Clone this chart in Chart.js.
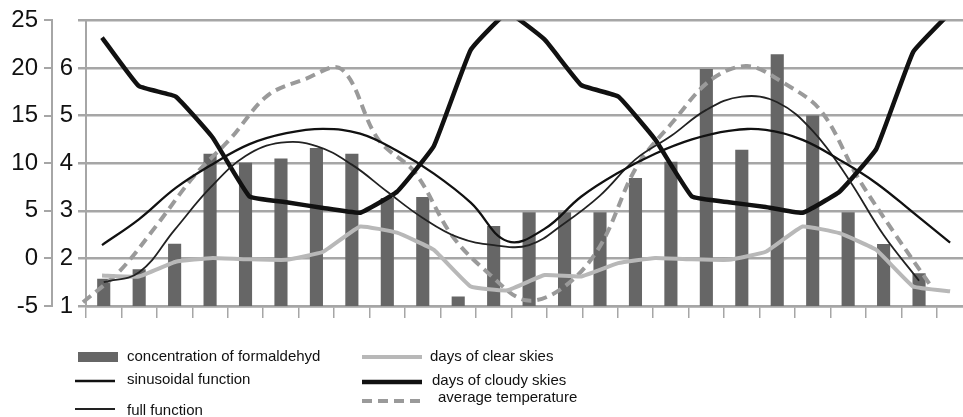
<!DOCTYPE html>
<html>
<head>
<meta charset="utf-8">
<script src="https://cdn.jsdelivr.net/npm/chart.js@4.4.1/dist/chart.umd.min.js"></script>
<style>
  html, body { margin: 0; padding: 0; background: #fff; }
  canvas { display: block; }
</style>
</head>
<body>
<canvas id="chart" width="963" height="417"></canvas>
<script>
// periods on the bottom axis (the original shows tick marks only)
const periods = [1, 2, 3, 4, 5, 6, 7, 8, 9, 10, 11, 12, 13, 14, 15, 16, 17, 18, 19, 20, 21, 22, 23, 24];

// inner scale (1 - 6)
const formaldehyde = [1.57, 1.77, 2.31, 4.20, 4.01, 4.10, 4.32, 4.20, 3.27, 3.29, 1.20, 2.68, 2.97, 2.97, 2.97, 3.69, 4.03, 5.98, 4.28, 6.29, 5.00, 2.97, 2.30, 1.69];
const sinusoidal = [2.28, 2.82, 3.48, 3.98, 4.40, 4.63, 4.72, 4.62, 4.26, 3.78, 3.17, 2.36, 2.62, 3.30, 3.80, 4.20, 4.50, 4.68, 4.70, 4.49, 4.07, 3.58, 2.96, 2.33];
const fullFunction = [1.50, 1.71, 2.60, 3.48, 4.15, 4.43, 4.36, 3.97, 3.40, 2.85, 2.44, 2.28, 2.28, 2.74, 3.32, 4.08, 4.57, 5.12, 5.40, 5.28, 4.68, 3.68, 2.49, 1.53];
const clearSkies = [1.64, 1.62, 1.93, 2.01, 1.98, 1.97, 2.14, 2.67, 2.54, 2.18, 1.41, 1.33, 1.65, 1.62, 1.90, 2.01, 1.98, 1.97, 2.14, 2.67, 2.53, 2.18, 1.41, 1.31];

// outer scale (-5 - 25)
const cloudySkies = [23.2, 18.1, 17.0, 12.7, 6.5, 5.9, 5.3, 4.8, 7.0, 11.8, 21.9, 25.8, 23.0, 18.2, 17.0, 12.5, 6.5, 5.9, 5.4, 4.8, 7.0, 11.5, 21.7, 25.8];
const avgTemperature = [-4.6, -1.3, 3.5, 8.6, 12.6, 17.1, 18.8, 19.9, 12.5, 9.0, 2.4, -1.6, -4.4, -3.1, 1.2, 9.6, 14.4, 18.7, 20.2, 18.4, 15.5, 8.5, 2.6, -3.0];

// tick labels
const outerTicks = [-5, 0, 5, 10, 15, 20, 25];
const innerTicks = [1, 2, 3, 4, 5, 6];

const GRID = '#a6a6a6';
const FONT = '"Liberation Sans", Arial, sans-serif';
Chart.defaults.font.family = FONT;
Chart.defaults.color = '#111';

// legend laid out in two columns like the original
const legendSpots = [
  { x: 78, y: 357, w: 40, tx: 127, ty: 357 },
  { x: 75, y: 381, w: 40, tx: 127, ty: 380 },
  { x: 75, y: 409, w: 40, tx: 127, ty: 411 },
  { x: 362, y: 357, w: 60, tx: 430, ty: 357 },
  { x: 362, y: 382, w: 60, tx: 432, ty: 381 },
  { x: 362, y: 401, w: 60, tx: 438, ty: 398 },
];

const legendPlugin = {
  id: 'twoColumnLegend',
  afterDraw(chart) {
    const ctx = chart.ctx;
    ctx.save();
    ctx.font = '15px ' + FONT;
    ctx.textBaseline = 'middle';
    chart.data.datasets.forEach((ds, i) => {
      const s = legendSpots[i];
      if (ds.type === 'bar') {
        ctx.fillStyle = ds.backgroundColor;
        ctx.fillRect(s.x, s.y - 5, s.w, 10);
      } else {
        ctx.beginPath();
        ctx.setLineDash(ds.borderDash || []);
        ctx.lineWidth = ds.borderWidth;
        ctx.strokeStyle = ds.borderColor;
        ctx.moveTo(s.x, s.y);
        ctx.lineTo(s.x + s.w, s.y);
        ctx.stroke();
        ctx.setLineDash([]);
      }
      ctx.fillStyle = '#111';
      ctx.fillText(ds.label, s.tx, s.ty);
    });
    ctx.restore();
  }
};

new Chart(document.getElementById('chart'), {
  type: 'bar',
  data: {
    labels: periods,
    datasets: [
      {
        type: 'bar',
        label: 'concentration of formaldehyd',
        data: formaldehyde,
        backgroundColor: '#666666',
        grouped: false,
        categoryPercentage: 1,
        barPercentage: 0.37,
        xAxisID: 'x',
        yAxisID: 'y2',
        order: 10,
      },
      {
        type: 'line',
        label: 'sinusoidal function',
        data: sinusoidal,
        borderColor: '#111',
        borderWidth: 2.3,
        tension: 0.4,
        pointRadius: 0,
        xAxisID: 'x2',
        yAxisID: 'y2',
      },
      {
        type: 'line',
        label: 'full function',
        data: fullFunction,
        borderColor: '#222',
        borderWidth: 1.8,
        tension: 0.4,
        pointRadius: 0,
        xAxisID: 'x',
        yAxisID: 'y2',
      },
      {
        type: 'line',
        label: 'days of clear skies',
        data: clearSkies,
        borderColor: '#b8b8b8',
        borderWidth: 4,
        tension: 0.1,
        pointRadius: 0,
        xAxisID: 'x2',
        yAxisID: 'y2',
      },
      {
        type: 'line',
        label: 'days of cloudy skies',
        data: cloudySkies,
        borderColor: '#111',
        borderWidth: 4.5,
        tension: 0.1,
        pointRadius: 0,
        xAxisID: 'x2',
        yAxisID: 'y',
      },
      {
        type: 'line',
        label: 'average temperature',
        data: avgTemperature,
        borderColor: '#9a9a9a',
        borderWidth: 4,
        borderDash: [10, 6],
        tension: 0.35,
        pointRadius: 0,
        clip: false,
        xAxisID: 'x3',
        yAxisID: 'y',
      },
    ],
  },
  options: {
    responsive: false,
    animation: false,
    layout: { padding: { left: 0, right: 0, top: 20, bottom: 99 } },
    plugins: {
      legend: { display: false },
      tooltip: { enabled: false },
    },
    scales: {
      x: {
        type: 'linear',
        position: 'bottom',
        offset: false,
        min: 0.5,
        max: 25.24,
        afterBuildTicks: (scale) => {
          scale.ticks = [0.5].concat(periods.map((p) => p + 0.5)).map((v) => ({ value: v }));
        },
        ticks: { display: false },
        grid: { offset: false, drawOnChartArea: false, drawTicks: true, tickLength: 12, color: GRID, lineWidth: 1.5 },
        border: { display: true, color: GRID, width: 2.5 },
      },
      x2: { type: 'linear', display: false, offset: false, min: 0.566, max: 24.35 },
      x3: { type: 'linear', display: false, offset: false, min: 1.081, max: 24.85 },
      y: {
        type: 'linear',
        position: 'left',
        weight: 1,
        min: -5,
        max: 25,
        afterBuildTicks: (scale) => {
          scale.ticks = outerTicks.map((v) => ({ value: v }));
        },
        afterFit: (scale) => { scale.width = 52; },
        ticks: { font: { size: 24 }, color: '#111', padding: 6 },
        grid: { drawOnChartArea: false, tickLength: 8, color: GRID, lineWidth: 2 },
        border: { display: true, color: GRID, width: 2 },
      },
      y2: {
        type: 'linear',
        position: 'left',
        weight: 0,
        min: 1,
        max: 7,
        ticks: {
          stepSize: 1,
          font: { size: 24 },
          color: '#111',
          padding: 5,
          callback: (v) => (innerTicks.includes(v) ? v : ''),
        },
        afterFit: (scale) => { scale.width = 34; },
        grid: { drawOnChartArea: true, tickLength: 8, color: GRID, lineWidth: 2.5 },
        border: { display: true, color: GRID, width: 2 },
      },
    },
  },
  plugins: [legendPlugin],
});
</script>
</body>
</html>
